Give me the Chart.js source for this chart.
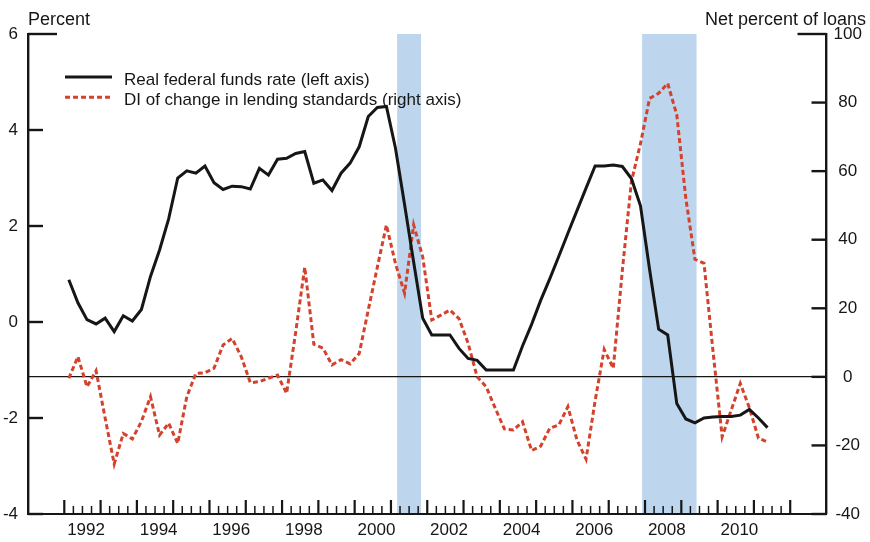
<!DOCTYPE html>
<html lang="en">
<head>
<meta charset="UTF-8">
<title>Real federal funds rate and lending standards</title>
<script src="https://cdn.jsdelivr.net/npm/chart.js"></script>
<style>
  html, body { margin: 0; padding: 0; background: #fff; }
</style>
</head>
<body>
<canvas id="myChart" width="870" height="542"></canvas>
<script>
// quarterly observations, 1992Q1 .. 2011Q2
const firstYear = 1992;
const realFedFunds = [
  0.88, 0.4, 0.05, -0.04, 0.08, -0.2, 0.13, 0.02,      // 1992-93
  0.26, 0.95, 1.5, 2.15, 3.0, 3.15, 3.1, 3.25,         // 1994-95
  2.9, 2.76, 2.83, 2.82, 2.77, 3.2, 3.06, 3.39,        // 1996-97
  3.41, 3.51, 3.55, 2.89, 2.96, 2.74, 3.1, 3.31,       // 1998-99
  3.65, 4.28, 4.47, 4.49, 3.62, 2.45, 1.25, 0.08,      // 2000-01
  -0.27, -0.27, -0.27, -0.55, -0.76, -0.8, -1.0, -1.0, // 2002-03
  -1.0, -1.0, -0.5, -0.05, 0.45, 0.9, 1.37, 1.85,      // 2004-05
  2.32, 2.79, 3.25, 3.25, 3.27, 3.24, 2.99, 2.42,      // 2006-07
  1.1, -0.15, -0.27, -1.7, -2.02, -2.1, -2.0, -1.98,   // 2008-09
  -1.97, -1.97, -1.94, -1.82, -2.0, -2.2               // 2010-11
];
const lendingStandards = [
  -0.4, 5.9, -2.9, 1.8, -12, -25.4, -16.5, -18.1,
  -13, -5.8, -17, -13.5, -19.4, -5.8, 1.0, 1.2,
  2.5, 9.3, 11.2, 5.9, -1.7, -1.4, -0.4, 0.5,
  -4.8, 13, 32, 9.5, 8.4, 3.5, 5, 3.8,
  6.8, 19.5, 32, 44.3, 33, 24.4, 44.3, 35,
  16.6, 18, 19.5, 17, 9.8, 0, -2.9, -9.2,
  -15.2, -15.5, -13.1, -21.5, -20.2, -15, -14, -8.7,
  -18.4, -24, -7, 8, 2.5, 31, 57, 68,
  81.2, 82.7, 85.6, 76.4, 52, 34.3, 33.1, 7.3,
  -17.5, -9.7, -1.9, -9, -17.9, -19
];
const yearLabels = ['1992', '1994', '1996', '1998', '2000', '2002', '2004', '2006', '2008', '2010'];
const leftTicks = [-4, -2, 0, 2, 4, 6];
const rightTicks = [-40, -20, 0, 20, 40, 60, 80, 100];
// NBER recessions (decimal years)
const recessions = [[2001.17, 2001.83], [2007.92, 2009.42]];
const tickYears = [1992, 2012];

const FONT = '"Liberation Sans", Arial, Helvetica, sans-serif';
const RED = '#d4412c';
const INK = '#161616';

// quarter midpoints as decimal years
const quarterX = realFedFunds.map((v, i) => firstYear + (i + 0.5) / 4);

const decorations = {
  id: 'decorations',
  beforeDraw(chart) {
    const {ctx, chartArea: a, scales: {x}} = chart;
    ctx.save();
    ctx.fillStyle = '#bdd6ee';
    recessions.forEach(([s, e]) => {
      const x0 = x.getPixelForValue(s);
      const x1 = x.getPixelForValue(e);
      ctx.fillRect(x0, a.top, x1 - x0, a.bottom - a.top);
    });
    ctx.restore();
  },
  afterDraw(chart) {
    const {ctx, chartArea: a, scales: {x, yL, yR}} = chart;
    ctx.save();
    ctx.strokeStyle = INK;

    // quarterly tick marks on the bottom axis, taller at each year
    for (let q = tickYears[0] * 4; q <= tickYears[1] * 4; q++) {
      const px = x.getPixelForValue(q / 4);
      const major = q % 4 === 0;
      ctx.lineWidth = major ? 2.2 : 1.5;
      ctx.beginPath();
      ctx.moveTo(px, a.bottom);
      ctx.lineTo(px, a.bottom - (major ? 14 : 8));
      ctx.stroke();
    }

    // y tick marks drawn inward
    ctx.lineWidth = 2.4;
    leftTicks.forEach(v => {
      const py = yL.getPixelForValue(v);
      const len = v === yL.max ? 29 : 15;
      ctx.beginPath();
      ctx.moveTo(a.left, py);
      ctx.lineTo(a.left + len, py);
      ctx.stroke();
    });
    rightTicks.forEach(v => {
      const py = yR.getPixelForValue(v);
      const len = v === yR.max ? 29 : 15;
      ctx.beginPath();
      ctx.moveTo(a.right, py);
      ctx.lineTo(a.right - len, py);
      ctx.stroke();
    });

    // axis titles
    ctx.fillStyle = INK;
    ctx.font = '18px ' + FONT;
    ctx.textBaseline = 'alphabetic';
    ctx.textAlign = 'left';
    ctx.fillText('Percent', a.left, 25);
    ctx.textAlign = 'right';
    ctx.fillText('Net percent of loans', 866, 25);

    // legend
    ctx.font = '17px ' + FONT;
    ctx.textAlign = 'left';
    chart.data.datasets.forEach((ds, i) => {
      const ly = 77 + i * 20.3;
      ctx.save();
      ctx.strokeStyle = ds.borderColor;
      ctx.lineWidth = ds.borderWidth;
      ctx.setLineDash(ds.borderDash || []);
      ctx.beginPath();
      ctx.moveTo(65, ly);
      ctx.lineTo(112, ly);
      ctx.stroke();
      ctx.restore();
      ctx.fillText(ds.label, 124, ly + 8);
    });
    ctx.restore();
  }
};

new Chart(document.getElementById('myChart'), {
  type: 'line',
  data: {
    datasets: [
      {
        label: 'Real federal funds rate (left axis)',
        data: realFedFunds.map((v, i) => ({x: quarterX[i], y: v})),
        yAxisID: 'yL',
        borderColor: INK,
        borderWidth: 3,
        pointRadius: 0,
        tension: 0
      },
      {
        label: 'DI of change in lending standards (right axis)',
        data: lendingStandards.map((v, i) => ({x: quarterX[i], y: v})),
        yAxisID: 'yR',
        borderColor: RED,
        borderWidth: 3,
        borderDash: [5, 3],
        pointRadius: 0,
        tension: 0
      }
    ]
  },
  options: {
    responsive: false,
    animation: false,
    layout: { padding: { top: 34, left: 0, right: 0, bottom: 0 } },
    plugins: { legend: { display: false }, tooltip: { enabled: false } },
    scales: {
      x: {
        type: 'linear',
        min: 1991,
        max: 2013,
        afterFit: s => { s.height = 28; },
        afterBuildTicks: s => { s.ticks = yearLabels.map(l => ({value: +l + 0.6})); },
        grid: { display: false, drawTicks: false },
        border: { display: true, color: INK, width: 2 },
        ticks: {
          padding: 6,
          autoSkip: false,
          maxRotation: 0,
          color: INK,
          font: { family: FONT, size: 17 },
          callback: v => String(Math.floor(v))
        }
      },
      yL: {
        type: 'linear',
        position: 'left',
        min: -4,
        max: 6,
        afterFit: s => { s.width = 28; },
        afterBuildTicks: s => { s.ticks = leftTicks.map(v => ({value: v})); },
        grid: { display: false, drawTicks: false },
        border: { display: true, color: INK, width: 2.4 },
        ticks: { padding: 10, color: INK, font: { family: FONT, size: 17 } }
      },
      yR: {
        type: 'linear',
        position: 'right',
        min: -40,
        max: 100,
        afterFit: s => { s.width = 43.5; },
        afterBuildTicks: s => { s.ticks = rightTicks.map(v => ({value: v})); },
        grid: {
          drawTicks: false,
          lineWidth: 1.3,
          color: c => (c.tick && c.tick.value === 0 ? INK : 'rgba(0,0,0,0)')
        },
        border: { display: true, color: INK, width: 2.4 },
        ticks: { padding: 7, crossAlign: 'center', color: INK, font: { family: FONT, size: 17 } }
      }
    }
  },
  plugins: [decorations]
});
</script>
</body>
</html>
